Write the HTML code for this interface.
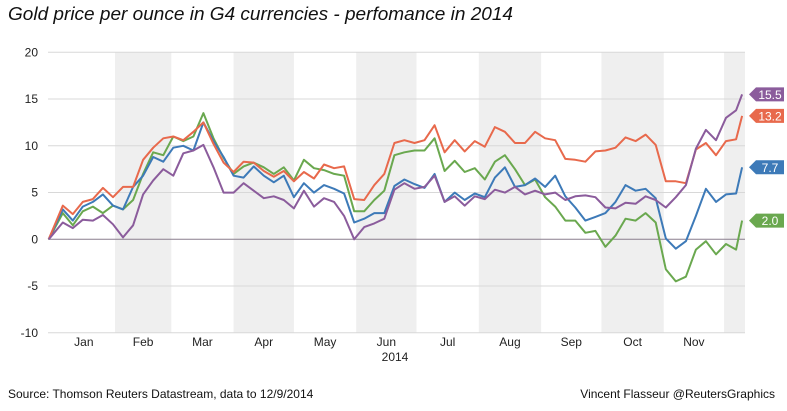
<!DOCTYPE html>
<html><head><meta charset="utf-8">
<style>
body{margin:0;background:#fff;}
svg{display:block;font-family:"Liberation Sans",Arial,sans-serif;}
</style></head>
<body>
<svg id="chart" width="787" height="411" viewBox="0 0 787 411" xmlns="http://www.w3.org/2000/svg">
<text x="8" y="20" font-size="18" font-style="italic" fill="#111" textLength="505" lengthAdjust="spacingAndGlyphs">Gold price per ounce in G4 currencies - perfomance in 2014</text>
<g id="bands"></g><g id="grid"></g><g id="yticks"></g><g id="xlabels"></g><g id="series"></g><g id="tags"></g>
<text x="395" y="361" font-size="12" text-anchor="middle" fill="#222">2014</text>
<text x="8" y="398" font-size="12" fill="#111">Source: Thomson Reuters Datastream, data to 12/9/2014</text>
<text x="775" y="398" font-size="12" fill="#111" text-anchor="end">Vincent Flasseur @ReutersGraphics</text>
</svg>
<script>
const days=[-2,5,10,15,20,25,30,35,40,45,50,55,60,65,70,75,80,85,90,95,100,105,110,115,120,125,130,135,140,145,150,155,160,165,170,175,180,185,190,195,200,205,210,215,220,225,230,235,240,245,250,255,260,265,270,275,280,285,290,295,300,305,310,315,320,325,330,335,340,343];
const purple=[0,1.8,1.2,2.1,2.0,2.6,1.6,0.2,1.5,4.8,6.3,7.5,6.8,9.2,9.5,10.1,7.7,5.0,5.0,6.0,5.2,4.4,4.6,4.2,3.3,5.2,3.5,4.4,4.0,2.5,0,1.3,1.7,2.2,5.3,6.0,5.4,5.6,6.8,4.0,4.6,3.6,4.6,4.3,5.3,5,5.6,4.8,5.2,4.8,5.0,4.2,4.6,4.7,4.5,3.4,3.3,3.9,3.8,4.6,4.2,3.4,4.5,5.8,9.7,11.7,10.6,13,13.8,15.5];
const red=[0,3.6,2.7,4.0,4.3,5.5,4.5,5.6,5.6,8.5,9.8,10.8,11.0,10.6,11.5,12.5,10.2,8.2,7.2,8.3,8.2,7.3,6.7,7.3,6.2,7.2,6.5,8.0,7.6,7.8,4.3,4.2,5.8,7.0,10.3,10.6,10.3,10.6,12.2,9.3,10.6,9.4,10.5,9.9,12.0,11.5,10.3,10.3,11.5,10.8,10.6,8.6,8.5,8.3,9.4,9.5,9.8,10.9,10.5,11.2,10.1,6.2,6.2,6.0,9.6,10.3,9.0,10.5,10.7,13.2];
const blue=[0,3.2,2.0,3.5,4.0,4.8,3.6,3.2,5.6,6.8,8.8,8.3,9.8,10.0,9.5,12.5,10.5,8.8,6.8,6.6,7.8,6.8,6.1,6.8,4.5,6.0,5.0,5.8,5.4,4.9,1.8,2.2,2.8,2.8,5.7,6.4,5.9,5.5,7.0,4.0,5.0,4.2,4.9,4.5,6.6,7.7,5.6,5.8,6.5,5.6,6.8,4.6,3.4,2.0,2.4,2.8,4.0,5.8,5.2,5.4,4.4,0.1,-1.0,-0.2,2.5,5.4,4.0,4.8,4.9,7.7];
const green=[0,2.8,1.5,3.0,3.5,2.8,3.6,3.2,4.2,7.0,9.3,9.0,11.0,10.5,11.0,13.5,10.8,8.7,7.0,7.8,8.2,7.7,7.0,7.7,6.3,8.5,7.6,7.4,7.0,6.8,3.0,3.0,4.2,5.2,9.0,9.3,9.5,9.5,10.8,7.3,8.4,7.2,7.6,6.4,8.3,9.0,7.5,5.8,6.4,4.5,3.5,2.0,2.0,0.7,0.9,-0.8,0.4,2.2,2.0,2.8,1.8,-3.2,-4.5,-4.0,-1.1,-0.2,-1.6,-0.5,-1.1,2.0];
const yTicks=[20,15,10,5,0,-5,-10];
const monthNames=["Jan","Feb","Mar","Apr","May","Jun","Jul","Aug","Sep","Oct","Nov","Dec"];
const monthStarts=[0,31,59,90,120,151,181,212,243,273,304,334,365];

const NS="http://www.w3.org/2000/svg";
const X0=48, X1=745, Y0=239.3, PPU=9.35;
const x=d=>52.7+d*2.01;
const y=v=>Y0-v*PPU;
function mk(tag,attrs,parent){const e=document.createElementNS(NS,tag);for(const k in attrs)e.setAttribute(k,attrs[k]);parent.appendChild(e);return e;}
const bands=document.getElementById('bands'),grid=document.getElementById('grid'),yt=document.getElementById('yticks'),xl=document.getElementById('xlabels'),ser=document.getElementById('series'),tags=document.getElementById('tags');
for(let i=1;i<12;i+=2){
  const a=x(monthStarts[i]), b=Math.min(x(monthStarts[i+1]),X1);
  const r=mk('rect',{x:a,y:y(20),width:b-a,height:y(-10)-y(20),fill:'#efefef'},bands);
  
  
}
yTicks.forEach(t=>{
  const l=mk('line',{x1:X0,x2:X1,y1:y(t),y2:y(t),stroke:t===0?'#8a7f8e':'#d8d8d8','stroke-width':1},grid);
  
  
  const tx=mk('text',{x:38,y:y(t)+4,'font-size':12,'text-anchor':'end',fill:'#222'},yt);
  tx.textContent=t;
  
  
});
monthNames.forEach((m,i)=>{
  if(i===11)return;
  const c=(x(monthStarts[i])+x(monthStarts[i+1]))/2;
  const tx=mk('text',{x:c,y:346,'font-size':12,'text-anchor':'middle',fill:'#222'},xl);
  tx.textContent=m;
  
  
});
const all=[["green",green,"#6aa84f"],["blue",blue,"#3d7ab8"],["red",red,"#e8694c"],["purple",purple,"#8b5c9c"]];
all.forEach(([n,vals,col])=>{
  const p=mk('polyline',{points:vals.map((v,i)=>x(days[i]).toFixed(1)+','+y(v).toFixed(1)).join(' '),fill:'none',stroke:col,'stroke-width':2,'stroke-linejoin':'round'},ser);
  
  
  const v=vals[vals.length-1], ty=y(v);
  const g=mk('g',{},tags);
  
  
  mk('path',{d:`M749 ${ty} L756 ${ty-7} L784 ${ty-7} L784 ${ty+7} L756 ${ty+7} Z`,fill:col},g);
  const t=mk('text',{x:770,y:ty+4.5,'font-size':12,'text-anchor':'middle',fill:'#fff'},g);
  t.textContent=v.toFixed(1);
});
</script>
</body></html>
